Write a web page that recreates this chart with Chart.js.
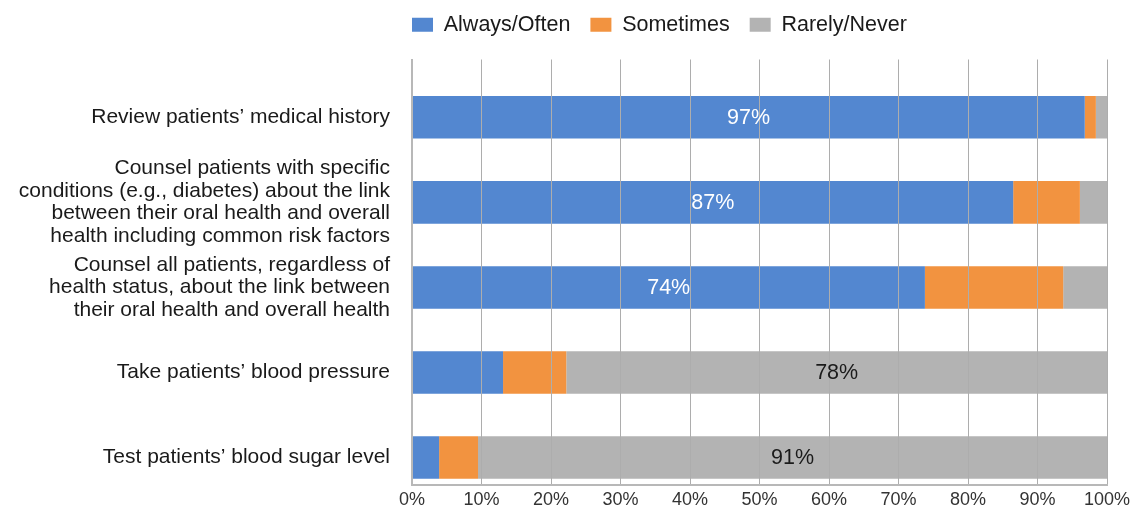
<!DOCTYPE html>
<html>
<head>
<meta charset="utf-8">
<script src="https://cdn.jsdelivr.net/npm/chart.js@4/dist/chart.umd.min.js"></script>
<style>
  html, body { margin: 0; padding: 0; background: #fff; }
  #wrap { width: 1138px; height: 510px; position: relative; }
</style>
</head>
<body>
<div id="wrap"><canvas id="c"></canvas></div>
<script>
const categories = [
  "Review patients’ medical history",
  ["Counsel patients with specific", "conditions (e.g., diabetes) about the link", "between their oral health and overall", "health including common risk factors"],
  ["Counsel all patients, regardless of", "health status, about the link between", "their oral health and overall health"],
  "Take patients’ blood pressure",
  "Test patients’ blood sugar level"
];
const alwaysOften = [96.8, 86.5, 73.8, 13.1, 3.9];
const sometimes   = [1.6, 9.6, 19.9, 9.1, 5.6];
const rarelyNever = [1.6, 3.9, 6.3, 77.8, 90.5];
const alwaysLabels = ["97%", "87%", "74%", "", ""];
const rarelyLabels = ["", "", "", "78%", "91%"];
const xTicks = [0, 10, 20, 30, 40, 50, 60, 70, 80, 90, 100];

const FONT = "'Liberation Sans', Arial, sans-serif";

const barLabels = {
  id: 'barLabels',
  afterDraw(chart) {
    const ctx = chart.ctx;
    const sets = [[0, alwaysLabels, '#ffffff'], [2, rarelyLabels, '#1a1a1a']];
    ctx.save();
    ctx.font = "21.5px " + FONT;
    ctx.textAlign = 'center';
    ctx.textBaseline = 'middle';
    sets.forEach(([di, labels, color]) => {
      const meta = chart.getDatasetMeta(di);
      meta.data.forEach((el, i) => {
        if (!labels[i]) return;
        const p = el.getProps(['x', 'y', 'base'], true);
        ctx.fillStyle = color;
        ctx.fillText(labels[i], (p.x + p.base) / 2, p.y + 1);
      });
    });
    ctx.restore();
  }
};

const legendShift = {
  id: 'legendShift',
  afterLayout(chart) {
    const lg = chart.legend;
    if (!lg) return;
    lg.left -= 20; lg.right -= 20;
    lg.top -= 14; lg.bottom -= 14;
  }
};

new Chart(document.getElementById('c'), {
  type: 'bar',
  data: {
    labels: categories,
    datasets: [
      { label: 'Always/Often', data: alwaysOften, backgroundColor: '#5387d0' },
      { label: 'Sometimes', data: sometimes, backgroundColor: '#f29340' },
      { label: 'Rarely/Never', data: rarelyNever, backgroundColor: '#b3b3b3' }
    ]
  },
  options: {
    indexAxis: 'y',
    responsive: true,
    maintainAspectRatio: false,
    animation: false,
    events: [],
    layout: { padding: { top: 8, right: 31, bottom: -14, left: 10 } },
    datasets: { bar: { categoryPercentage: 0.5, barPercentage: 1.0, borderWidth: 0 } },
    plugins: {
      legend: {
        position: 'top',
        align: 'start',
        fullSize: false,
        labels: {
          boxWidth: 21,
          boxHeight: 14,
          padding: 20,
          color: '#1a1a1a',
          font: { family: FONT, size: 21.5 }
        }
      },
      tooltip: { enabled: false }
    },
    scales: {
      x: {
        stacked: true,
        min: 0,
        max: 100,
        afterBuildTicks(axis) { axis.ticks = xTicks.map(v => ({ value: v })); },
        ticks: {
          color: '#333',
          font: { family: FONT, size: 18 },
          padding: 4,
          autoSkip: false,
          maxRotation: 0,
          callback: v => v + '%'
        },
        grid: { color: '#adadad', lineWidth: 1, drawTicks: false, z: 1 },
        border: { color: '#b8b8b8', width: 2, z: 2 }
      },
      y: {
        stacked: true,
        afterFit(axis) { axis.width = 402; },
        afterUpdate(axis) { axis._startValue -= 0.18; },
        ticks: {
          color: '#1a1a1a',
          autoSkip: false,
          font: { family: FONT, size: 21, lineHeight: '22.5px' },
          padding: 14
        },
        grid: { display: false },
        border: { color: '#b8b8b8', width: 2, z: 2 }
      }
    }
  },
  plugins: [barLabels, legendShift]
});
</script>
</body>
</html>
